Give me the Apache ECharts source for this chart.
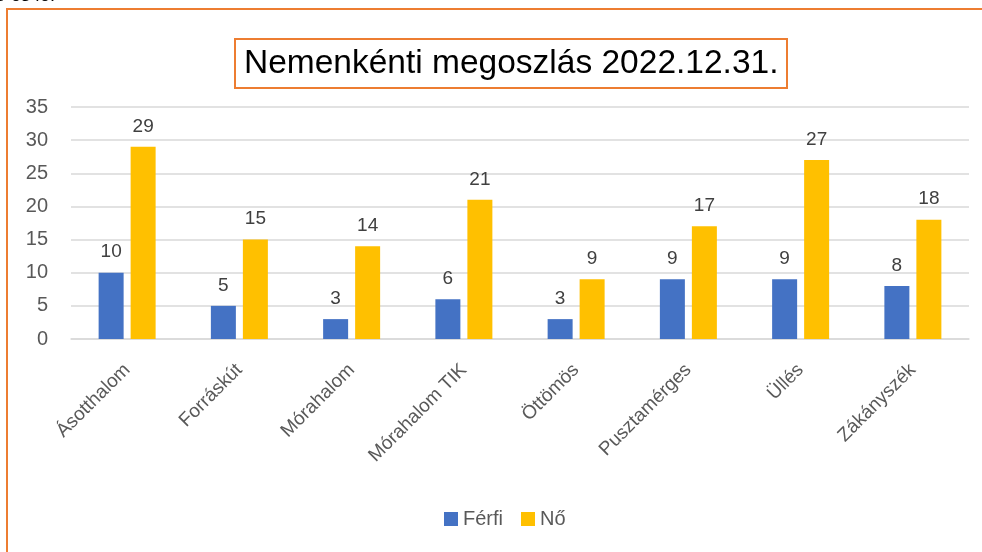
<!DOCTYPE html>
<html>
<head>
<meta charset="utf-8">
<script src="https://cdn.jsdelivr.net/npm/echarts@6/dist/echarts.min.js"></script>
<style>
  html, body { margin: 0; padding: 0; background: #fff; }
  #chart { width: 982px; height: 552px; }
</style>
</head>
<body>
<div id="chart"></div>
<script>
// telepulesek
const categories = ['Ásotthalom', 'Forráskút', 'Mórahalom', 'Mórahalom TIK', 'Öttömös', 'Pusztamérges', 'Üllés', 'Zákányszék'];
const ferfi = [10, 5, 3, 6, 3, 9, 9, 8];
const no = [29, 15, 14, 21, 9, 17, 27, 18];
const yTicks = [0, 5, 10, 15, 20, 25, 30, 35];

const font = 'Liberation Sans';
const labelStyle = { show: true, position: 'top', distance: 11, color: '#404040', fontSize: 19, fontFamily: font };

let myChart = echarts.init(document.getElementById('chart'));
myChart.setOption({
    animation: false,
    textStyle: { fontFamily: font },
    title: {
        text: 'Nemenkénti megoszlás 2022.12.31.',
        left: 235,
        top: 39,
        borderColor: '#ED7D31',
        borderWidth: 2,
        padding: [8, 9, 7, 9],
        textStyle: { fontSize: 33.5, fontWeight: 'normal', color: '#000', fontFamily: font }
    },
    graphic: [
        // keret
        { type: 'rect', shape: { x: 7, y: 9, width: 1000, height: 600 }, style: { fill: 'none', stroke: '#ED7D31', lineWidth: 2 }, silent: true },
        { type: 'text', left: -4, top: -13, style: { text: '9 ös fő.', fontSize: 18, fill: '#000', fontFamily: font } }
    ],
    legend: {
        bottom: 18,
        left: 439,
        itemWidth: 14,
        itemHeight: 14,
        itemGap: 18,
        icon: 'rect',
        textStyle: { color: '#595959', fontSize: 20, fontFamily: font },
        data: ['Férfi', 'Nő']
    },
    grid: { left: 71, right: 13, top: 107, bottom: 213 },
    xAxis: {
        type: 'category',
        data: categories,
        axisTick: { show: false },
        axisLine: { lineStyle: { color: '#D9D9D9', width: 1.5 } },
        axisLabel: { rotate: 45, color: '#595959', fontSize: 19, fontFamily: font, margin: 28, interval: 0 }
    },
    yAxis: {
        type: 'value',
        min: yTicks[0],
        max: yTicks[yTicks.length - 1],
        interval: 5,
        axisLine: { show: false },
        axisTick: { show: false },
        splitLine: { lineStyle: { color: '#D9D9D9', width: 1.5 } },
        axisLabel: { color: '#595959', fontSize: 20, fontFamily: font, margin: 23 }
    },
    series: [
        { name: 'Férfi', type: 'bar', data: ferfi, barWidth: 25, barGap: '28%', itemStyle: { color: '#4472C4' }, label: labelStyle },
        { name: 'Nő', type: 'bar', data: no, barWidth: 25, itemStyle: { color: '#FFC000' }, label: labelStyle }
    ]
});
</script>
</body>
</html>
